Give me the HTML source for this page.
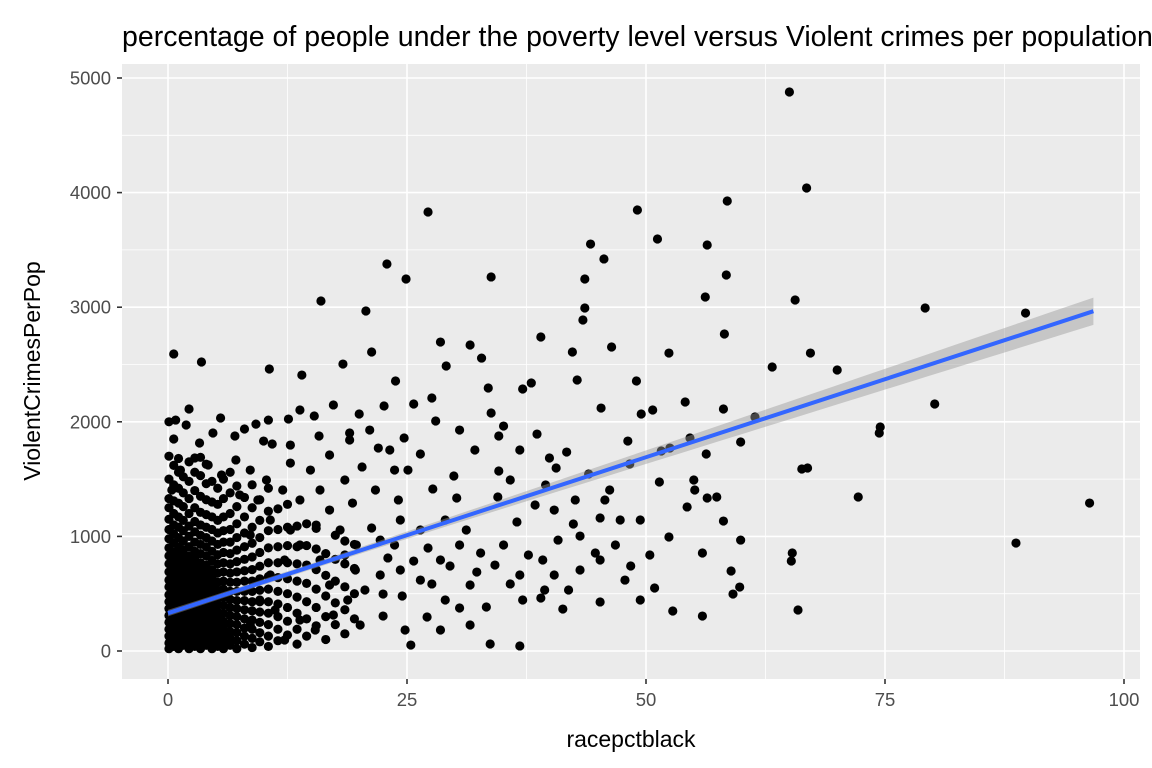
<!DOCTYPE html>
<html><head><meta charset="utf-8"><style>
html,body{margin:0;padding:0;background:#fff;overflow:hidden;width:1152px;height:768px}
svg{display:block}
text{font-family:"Liberation Sans",Arial,sans-serif}
</style></head><body>
<svg id="chart" width="1152" height="768" viewBox="0 0 1152 768">
<text x="122" y="46" font-size="28.5" fill="#000">percentage of people under the poverty level versus Violent crimes per population</text>
<rect x="122" y="64" width="1018" height="615" fill="#ebebeb"/>
<g id="grid"></g>
<g id="points"></g>
<g id="band"></g>
<g id="line"></g>
<g id="axes"></g>
<text transform="translate(40,371) rotate(-90)" text-anchor="middle" font-size="23" fill="#000">ViolentCrimesPerPop</text>
<text x="631" y="747" text-anchor="middle" font-size="23" fill="#000">racepctblack</text>
</svg>
<script>
const xTicks=[0,25,50,75,100];
const yTicks=[0,1000,2000,3000,4000,5000];
const outX=[65.0,66.8,58.5,49.1,27.2,51.2,44.2,56.4,45.6,22.9,24.9,33.8,43.6,58.4,16.0,56.2,65.6,79.2,89.7,20.7,43.6,43.4,39.0,31.6,28.5,58.2,46.4,67.2,0.6,3.5,10.6,21.3,42.3,52.4,63.2,70,29.1,18.3,32.8,33.5,38,42.8,45.3,49,54.1,58.1,61.4,74.4,74.5,80.2,72.2,96.4,66.9,66.3,65.3,65.2,65.9,55.9,88.7,48.4,50.9,52.8,52.4,55.9,58.9,59.1,59.8,59.9,58.1,57.4,56.4,59.9,56.3,54.6,52.5,51.6,49.5,50.7,48.3,51.4,54.3,55,55.1,45.7,45.2,45.2,41.3,36.8,33.7,25.4,39,35.8,39.2,36.5,42.4,43.1,44.7,39.5,39.9,40.6,44,41.7,48.1,35.1,34.6,38.6,37.1,33.8,34.6,29.9,30.2,34.5,31.2,32.7,32.3,33.3,30.5,27.6,29.5,27.2,25.7,24.5,27.1,22.5,22.5,23,21.3,24.1,25.1,24.7,26.4,27.7,28,27.6,25.7,23.8,22.6,22,20,17.3,19.0,15.8,15.3,13.8,12.6,14,10.5,5.5,8,4.7,2.2,0.8,1.9,3.3,7.0,10,10.9,9.2];
const outY=[4878,4040,3927,3848,3831,3595,3551,3543,3421,3377,3246,3264,3246,3281,3054,3089,3063,2993,2949,2967,2993,2888,2740,2670,2696,2766,2653,2600,2592,2522,2461,2609,2609,2600,2478,2452,2487,2504,2556,2295,2339,2365,2120,2356,2173,2112,2042,1902,1955,2155,1344,1291,1597,1588,855,785,358,305,942,742,550,349,995,855,698,497,558,968,1134,1344,1335,1824,1719,1859,1771,1745,2068,2103,1632,1475,1257,1492,1405,1318,1161,428,366,44,61,52,462,585,794,1126,1108,1003,855,1449,1684,1597,1545,1736,1832,1963,1876,1893,2286,2077,1571,1527,1335,1344,1056,855,689,384,375,585,742,899,785,480,297,305,497,812,1073,1318,1579,1859,1719,1414,2007,2208,2155,2356,2138,1771,2068,2147,1902,1876,2051,2103,2024,2408,2015,2033,1937,1902,2112,2015,1972,1815,1876,1832,1806,1980];
const midX=[12.8,14.9,16.9,18.5,20.3,21.7,19.3,16.9,13.8,12,10.3,8.6,7.1,5.6,4.2,2.8,1.3,0.4,7.5,9.4,15.5,18,19.7,24.3,26.4,29,30.5,28.5,31.6,34.2,36.8,35.1,37.7,40.4,41.9,40.8,37.1,29,26.4,24.3,22.2,20.6,18.8,17.3,15.4,13.8,12.2,20.1,24.8,28.5,31.6,19.6,16.9,15.9,13.8,12.2,10.7,9.6,11.2,8.6,22.2,23.7,18.5,12.8,10.7,8.6,15.9,12.8,19,21.1,23.2,23.7,30.5,32.1,36.8,35.8,38.4,40.4,42.6,46.2,47.3,46.8,49.4,50.4,47.8,49.4,43.1,45.2,39.4];
const midY=[1640,1579,1710,1492,1606,1405,1291,1230,1318,1405,1492,1579,1667,1536,1623,1684,1579,1405,1362,1318,1099,1056,925,1143,1056,1143,925,794,576,750,663,925,838,663,532,968,445,445,619,707,663,532,445,314,183,270,96,227,183,183,227,707,576,794,925,794,663,445,358,227,968,925,838,1056,1143,1012,1405,1797,1841,1928,1754,1579,1928,1754,1754,1492,1274,1230,1318,1405,1143,925,1143,838,619,445,707,794,532];
const coreX=[0.1,0.6,1.1,1.6,2.2,2.8,3.4,4.0,4.6,5.2,5.8,6.5,7.2,8.0,8.8,9.6,10.5,11.5,12.5,13.5,14.5,15.5,16.5,17.5,18.5,19.5];
const coreY=[
[20,70,130,190,250,310,370,430,490,560,620,690,760,830,900,980,1060,1150,1250,1330,1500,1700,2000],
[40,100,160,220,280,340,400,460,520,580,650,720,790,860,940,1020,1100,1200,1310,1450,1620,1850],
[20,80,140,200,260,320,380,440,500,560,630,700,770,840,910,990,1080,1170,1290,1420,1560,1680],
[50,110,170,230,290,350,410,470,530,600,670,740,810,880,960,1050,1140,1260,1380,1520],
[20,80,140,200,260,320,380,440,500,560,620,690,760,830,910,1000,1090,1200,1330,1480,1650],
[40,100,160,220,280,340,400,460,520,590,660,730,800,870,950,1040,1130,1250,1400,1560],
[20,80,140,200,260,320,380,440,500,560,630,700,770,850,930,1010,1100,1210,1350,1530,1690],
[50,110,170,230,290,350,410,470,540,610,680,750,830,910,990,1080,1190,1320,1460,1630],
[20,80,140,200,260,320,380,440,500,570,640,710,790,870,960,1060,1170,1300,1480],
[40,100,160,220,280,340,400,460,530,600,680,760,840,930,1030,1140,1280,1420],
[20,80,140,200,260,330,400,470,540,610,690,770,860,950,1050,1170,1330,1500],
[50,110,170,240,310,380,450,520,600,680,760,850,950,1060,1200,1380,1560],
[20,90,160,230,300,370,440,520,600,690,780,880,990,1110,1260,1440],
[60,130,200,280,360,440,520,610,700,800,910,1030,1170,1340],
[30,110,190,270,350,430,520,610,710,820,940,1080,1250,1450],
[80,160,250,340,430,530,630,740,860,990,1140,1320],
[40,130,230,330,430,540,650,770,900,1050,1220,1420],
[90,190,300,410,520,640,770,910,1060,1240],
[140,260,380,500,630,770,920,1080,1280],
[60,190,330,470,610,760,910,1090],
[130,280,430,590,750,920,1110],
[220,380,540,710,890,1070],
[100,300,480,660,850],
[230,420,610,800,1010],
[150,360,560,760,960],
[280,500,720,930]];
const fitStart=[0,330];
const fitEnd=[96.8,2965];

const NS='http://www.w3.org/2000/svg';
const X0=122,X1=1140,Y0=64,Y1=679;
function sx(v){return 168+v*9.56;}
function sy(v){return 651-v*0.1146;}
function mk(tag,attrs,parent){const e=document.createElementNS(NS,tag);for(const k in attrs)e.setAttribute(k,attrs[k]);parent.appendChild(e);return e;}
const grid=document.getElementById('grid'),axes=document.getElementById('axes');
for(let i=0;i<yTicks.length;i++){
  const v=yTicks[i];
  if(i<yTicks.length-1){const m=v+500;
    const gm=mk('line',{x1:X0,x2:X1,y1:sy(m),y2:sy(m),stroke:'#fff','stroke-width':0.8},grid);
    
    }
  const g=mk('line',{x1:X0,x2:X1,y1:sy(v),y2:sy(v),stroke:'#fff','stroke-width':1.6},grid);
  
  
  const t=mk('line',{x1:117,x2:122,y1:sy(v),y2:sy(v),stroke:'#333','stroke-width':1.6},axes);
  
  
  const l=mk('text',{x:111,y:sy(v)+6.5,'text-anchor':'end','font-size':18.5,fill:'#4d4d4d'},axes);
  l.textContent=v;
  
  
}
for(let i=0;i<xTicks.length;i++){
  const v=xTicks[i];
  if(i<xTicks.length-1){const m=v+12.5;
    const gm=mk('line',{x1:sx(m),x2:sx(m),y1:Y0,y2:Y1,stroke:'#fff','stroke-width':0.8},grid);
    
    }
  const g=mk('line',{x1:sx(v),x2:sx(v),y1:Y0,y2:Y1,stroke:'#fff','stroke-width':1.6},grid);
  
  
  const t=mk('line',{x1:sx(v),x2:sx(v),y1:679,y2:684,stroke:'#333','stroke-width':1.6},axes);
  
  
  const l=mk('text',{x:sx(v),y:706,'text-anchor':'middle','font-size':18.5,fill:'#4d4d4d'},axes);
  l.textContent=v;
  
  
}
const pts=document.getElementById('points');
function dot(x,y){const c=mk('circle',{cx:sx(x),cy:sy(y),r:4.6,fill:'#000'},pts);
  
  }
for(let i=0;i<coreX.length;i++)for(const y of coreY[i])dot(coreX[i],y);
for(let i=0;i<midX.length;i++)dot(midX[i],midY[i]);
for(let i=0;i<outX.length;i++)dot(outX[i],outY[i]);
const slope=(fitEnd[1]-fitStart[1])/(fitEnd[0]-fitStart[0]);
function f(x){return fitStart[1]+slope*(x-fitStart[0]);}
function hw(x){return Math.sqrt(25*25+1.34*1.34*(x-10)*(x-10));}
let up=[],lo=[];
for(let k=0;k<=40;k++){const x=fitStart[0]+(fitEnd[0]-fitStart[0])*k/40;
  up.push(sx(x)+','+sy(f(x)+hw(x)));lo.unshift(sx(x)+','+sy(f(x)-hw(x)));}
const band=mk('polygon',{points:up.concat(lo).join(' '),fill:'#999','fill-opacity':0.45},document.getElementById('band'));


const ln=mk('line',{x1:sx(fitStart[0]),y1:sy(f(fitStart[0])),x2:sx(fitEnd[0]),y2:sy(f(fitEnd[0])),stroke:'#3366ff','stroke-width':4},document.getElementById('line'));


</script>
</body></html>
